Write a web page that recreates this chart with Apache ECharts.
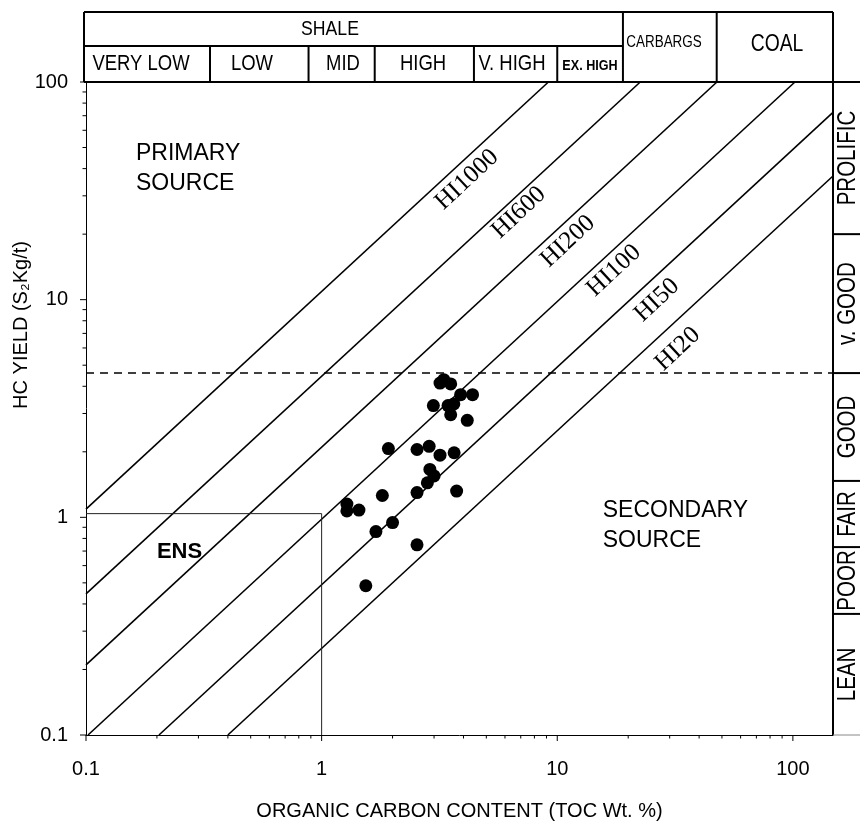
<!DOCTYPE html>
<html>
<head>
<meta charset="UTF-8">
<title>HC yield vs TOC</title>
<style>html,body{margin:0;padding:0;background:#fff;}#charts{width:860px;height:826px;}</style>
</head>
<body>
<div id="charts"></div>
<script src="https://cdn.jsdelivr.net/npm/echarts@6/dist/echarts.min.js"></script>
<script>
// samples: TOC (wt %) and S2 (kg/t)
var tocValues = [3.18, 3.30, 3.53, 3.89, 4.37, 2.98, 3.44, 3.64, 3.53, 4.15,
                 1.92, 2.54, 2.86, 3.18, 3.65, 2.88, 3.00, 2.81, 2.54, 3.74,
                 1.81, 1.28, 1.28, 1.44, 2.00, 1.70, 2.54, 1.54];
var s2Values  = [4.14, 4.29, 4.10, 3.66, 3.66, 3.26, 3.26, 3.32, 2.96, 2.79,
                 2.07, 2.05, 2.12, 1.93, 1.98, 1.66, 1.55, 1.44, 1.30, 1.32,
                 1.26, 1.15, 1.07, 1.08, 0.946, 0.86, 0.748, 0.485];

// HI lines, start and end points [TOC, S2]
var hiNames = ['HI1000', 'HI600', 'HI200', 'HI100', 'HI50', 'HI20'];
var hiStart = [[0.1, 1.09], [0.1, 0.445], [0.1, 0.21], [0.102, 0.1], [0.204, 0.1], [0.4, 0.1]];
var hiEnd   = [[9.17, 100], [22.5, 100], [47.6, 100], [102, 100], [148, 72.5], [148, 37]];
var hiLabelAt = [[4.14, 35.6], [6.87, 25.1], [11.1, 18.5], [17.4, 13.6], [26.5, 9.94], [32.5, 5.93]];

var ensBox = [[0.1, 1.04], [1, 1.04], [1, 0.1]];
var goodLimit = 4.6;

// header classes (TOC boundaries) and right column classes (S2 boundaries)
var shaleClasses = ['VERY LOW', 'LOW', 'MID', 'HIGH', 'V. HIGH', 'EX. HIGH'];
var tocBounds = [0.1, 0.336, 0.88, 1.68, 4.43, 10, 19, 47.5, 148];
var s2Classes = ['LEAN', 'POOR', 'FAIR', 'GOOD', 'v. GOOD', 'PROLIFIC'];
var s2Bounds = [0.1, 0.36, 0.73, 1.47, 4.6, 20, 100];

var xMin = 0.1, xMax = 148, yMin = 0.1, yMax = 100;
var xTickDecades = [0.1, 1, 10, 100];
var yTickDecades = [0.1, 1, 10, 100];

var SANS = '"Liberation Sans", Arial, sans-serif';
var NARROW_SCALE = 0.84;   // squeeze Liberation Sans to look like Arial Narrow

var mycharts = echarts.init(document.getElementById('charts'));

// tick marks (major + minor) built from the decades
var tickData = [];
xTickDecades.forEach(function (d) {
    for (var m = 1; m <= 9; m++) {
        var v = d * m;
        if (v <= xMax + 1e-9) tickData.push([v, yMin, 0, m === 1 ? 1 : 0]);
    }
});
yTickDecades.forEach(function (d) {
    for (var m = 1; m <= 9; m++) {
        var v = d * m;
        if (v <= yMax + 1e-9) tickData.push([xMin, v, 1, m === 1 ? 1 : 0]);
    }
});

function decadeLabel(v) {
    var l = Math.log10(v);
    if (Math.abs(l - Math.round(l)) > 1e-6) return '';
    return String(Math.pow(10, Math.round(l)));
}

var series = [];
hiNames.forEach(function (n, i) {
    series.push({
        name: n, type: 'line', data: [hiStart[i], hiEnd[i]],
        symbol: 'none', silent: true, clip: false,
        lineStyle: {color: '#000', width: 1.6, opacity: 1}
    });
});
series.push({
    type: 'line', data: ensBox, symbol: 'none', silent: true,
    lineStyle: {color: '#222', width: 1, opacity: 1}
});
series.push({
    type: 'line', data: [[xMin, goodLimit], [xMax, goodLimit]], symbol: 'none', silent: true,
    lineStyle: {color: '#000', width: 1.5, type: [8, 6], opacity: 1}
});
series.push({
    type: 'scatter', symbolSize: 13,
    data: tocValues.map(function (t, i) { return [t, s2Values[i]]; }),
    itemStyle: {color: '#000', opacity: 1}
});
// HI labels
series.push({
    type: 'scatter', symbolSize: 0, silent: true,
    data: hiLabelAt.map(function (p, i) { return [p[0], p[1], hiNames[i]]; }),
    itemStyle: {opacity: 1},
    label: {
        show: true, position: 'inside', rotate: 43, opacity: 1,
        formatter: function (p) { return p.data[2]; },
        fontFamily: '"Liberation Serif", "Times New Roman", serif', fontSize: 25, color: '#000'
    }
});
// area labels
series.push({
    type: 'scatter', symbolSize: 0, silent: true,
    data: [[0.163, 40, 'PRIMARY\nSOURCE'], [15.6, 0.92, 'SECONDARY\nSOURCE']],
    itemStyle: {opacity: 1},
    label: {
        show: true, position: 'inside', align: 'left', verticalAlign: 'middle', opacity: 1,
        formatter: function (p) { return p.data[2]; },
        fontFamily: SANS, fontSize: 23, lineHeight: 30, color: '#000'
    }
});
series.push({
    type: 'scatter', symbolSize: 0, silent: true,
    data: [[0.2, 0.69, 'ENS']],
    itemStyle: {opacity: 1},
    label: {
        show: true, position: 'inside', align: 'left', verticalAlign: 'middle', opacity: 1,
        formatter: function (p) { return p.data[2]; },
        fontFamily: SANS, fontSize: 22, fontWeight: 'bold', color: '#000'
    }
});
series.push({
    type: 'custom', clip: false, silent: true, data: tickData,
    renderItem: function (params, api) {
        var p = api.coord([api.value(0), api.value(1)]);
        var len = api.value(3) ? 6 : 3.5;
        var shape = api.value(2) === 0
            ? {x1: p[0], y1: p[1], x2: p[0], y2: p[1] + len}
            : {x1: p[0] - len, y1: p[1], x2: p[0], y2: p[1]};
        return {type: 'line', shape: shape, style: {stroke: '#000', lineWidth: 1}};
    }
});

option = {
    backgroundColor: '#fff',
    animation: false,
    grid: {left: 86, right: 27, top: 82, bottom: 88, containLabel: false},
    xAxis: {
        type: 'log', logBase: 10, min: xMin, max: xMax,
        name: 'ORGANIC CARBON CONTENT (TOC Wt. %)', nameLocation: 'middle', nameGap: 66,
        nameTextStyle: {fontFamily: SANS, fontSize: 20, color: '#000'},
        axisLine: {lineStyle: {color: '#000', width: 1}},
        axisTick: {show: false}, splitLine: {show: false}, minorTick: {show: false},
        axisLabel: {formatter: decadeLabel, margin: 24, fontFamily: SANS, fontSize: 20, color: '#000'}
    },
    yAxis: {
        type: 'log', logBase: 10, min: yMin, max: yMax,
        axisLine: {lineStyle: {color: '#000', width: 1}},
        axisTick: {show: false}, splitLine: {show: false}, minorTick: {show: false},
        axisLabel: {formatter: decadeLabel, margin: 18, fontFamily: SANS, fontSize: 20, color: '#000'}
    },
    series: series
};
mycharts.setOption(option);

// decorations: header table, right column, y axis title
function px(v) { return mycharts.convertToPixel({xAxisIndex: 0}, v); }
function py(v) { return mycharts.convertToPixel({yAxisIndex: 0}, v); }

var g = [];
function ln(x1, y1, x2, y2, w, c) {
    g.push({type: 'line', silent: true, shape: {x1: x1, y1: y1, x2: x2, y2: y2},
        style: {stroke: c || '#000', lineWidth: w || 2}});
}
function tx(t, x, y, size, opts) {
    opts = opts || {};
    g.push({type: 'text', silent: true, x: x, y: y, rotation: opts.rot || 0,
        scaleX: opts.sx || 1,
        style: {text: t, fill: '#000', fontSize: size, fontFamily: SANS, fontWeight: opts.weight || 'normal',
            align: 'center', verticalAlign: 'middle'}});
}

var hTop = 12, hMid = 46, hBot = py(yMax), plotBottom = py(yMin);
var xs = tocBounds.map(px);
var xl = xs[0] - 2, xr = xs[xs.length - 1];
ln(xl, hTop, xr, hTop);
ln(xl, hMid, xs[6], hMid);
ln(xl, hBot, 860, hBot);
ln(xl, hTop, xl, hBot);
ln(xs[6], hTop, xs[6], hBot);
ln(xs[7], hTop, xs[7], hBot);
ln(xr, hTop, xr, plotBottom);
for (var i = 1; i < 6; i++) ln(xs[i], hMid, xs[i], hBot);
ln(xr, plotBottom, 860, plotBottom, 1, '#888');

var N = {sx: NARROW_SCALE};
tx('SHALE', 330, (hTop + hMid) / 2, 21, N);
var rowY = (hMid + hBot) / 2;
var shaleX = [141, 252, 343, 423, 512, 590];
shaleClasses.forEach(function (c, i) {
    if (c === 'EX. HIGH') tx(c, shaleX[i], rowY + 2, 15, {sx: NARROW_SCALE, weight: 'bold'});
    else tx(c, shaleX[i], rowY, 22, N);
});
tx('CARBARGS', 664, 43, 16, N);
tx('COAL', 777, 45, 23, N);

// right column S2 classes
var ys = s2Bounds.map(py);
for (var j = 1; j < ys.length - 1; j++) ln(xr, ys[j], 860, ys[j], 2);
s2Classes.forEach(function (c, i) {
    tx(c, 848, (ys[i] + ys[i + 1]) / 2, 25, {sx: 0.82, rot: Math.PI / 2});
});

tx('HC YIELD (S\u2082Kg/t)', 21, 325, 20, {rot: Math.PI / 2});

mycharts.setOption({graphic: g});
</script>
</body>
</html>
